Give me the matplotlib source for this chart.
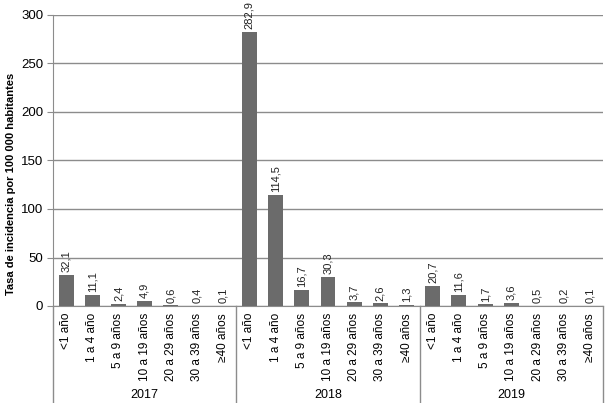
import numpy as np
import matplotlib.pyplot as plt
from matplotlib.transforms import blended_transform_factory

plt.rcParams['font.family'] = ['Liberation Sans', 'DejaVu Sans']

years = ["2017", "2018", "2019"]
age_groups = ["<1 año", "1 a 4 año", "5 a 9 años", "10 a 19 años",
              "20 a 29 años", "30 a 39 años", "≥40 años"]
rates_2017 = [32.1, 11.1, 2.4, 4.9, 0.6, 0.4, 0.1]
rates_2018 = [282.9, 114.5, 16.7, 30.3, 3.7, 2.6, 1.3]
rates_2019 = [20.7, 11.6, 1.7, 3.6, 0.5, 0.2, 0.1]

values = rates_2017 + rates_2018 + rates_2019
labels = age_groups * len(years)
x = np.arange(len(values))
n = len(age_groups)

fig = plt.figure(figsize=(6.05, 4.03), dpi=100)
ax = fig.add_axes([53 / 605, 1 - 306 / 403, 550 / 605, 291 / 403])

ax.bar(x, values, width=0.57, color='#6b6b6b', zorder=3)

for xi, v in zip(x, values):
    ax.annotate(f"{v:.1f}".replace('.', ','), (xi, v), xytext=(0, 2),
                textcoords='offset points', rotation=90, ha='center',
                va='bottom', fontsize=8, color='#222222',
                annotation_clip=False)

ax.set_xlim(-0.5, len(values) - 0.5)
ax.set_ylim(0, 300)
ax.set_yticks(np.arange(0, 301, 50))
ax.yaxis.grid(True, color='#8c8c8c', linewidth=1, zorder=0)
ax.tick_params(axis='y', length=4, color='#8c8c8c', labelsize=9.5, pad=3)
ax.set_xticks(x)
ax.set_xticklabels(labels, rotation=90, fontsize=8.5)
ax.tick_params(axis='x', length=0, pad=5)

for s in ['top', 'right']:
    ax.spines[s].set_visible(False)
ax.spines['left'].set_color('#8c8c8c')
ax.spines['bottom'].set_color('#8c8c8c')

ax.set_ylabel("Tasa de incidencia por 100 000 habitantes", fontsize=8,
              fontweight='bold')
ax.yaxis.set_label_coords(-0.068, 0.42)

# group separators and year labels below the axis
trans = blended_transform_factory(ax.transData, ax.transAxes)
for b in [-0.5, n - 0.5, 2 * n - 0.5, 3 * n - 0.5]:
    ax.plot([b, b], [0, -0.34], transform=trans, color='#8c8c8c',
            linewidth=1, clip_on=False)
for i, yr in enumerate(years):
    ax.text(i * n + (n - 1) / 2, -0.305, yr, transform=trans, ha='center',
            va='center', fontsize=9)

fig.savefig("out.png", dpi=100)
